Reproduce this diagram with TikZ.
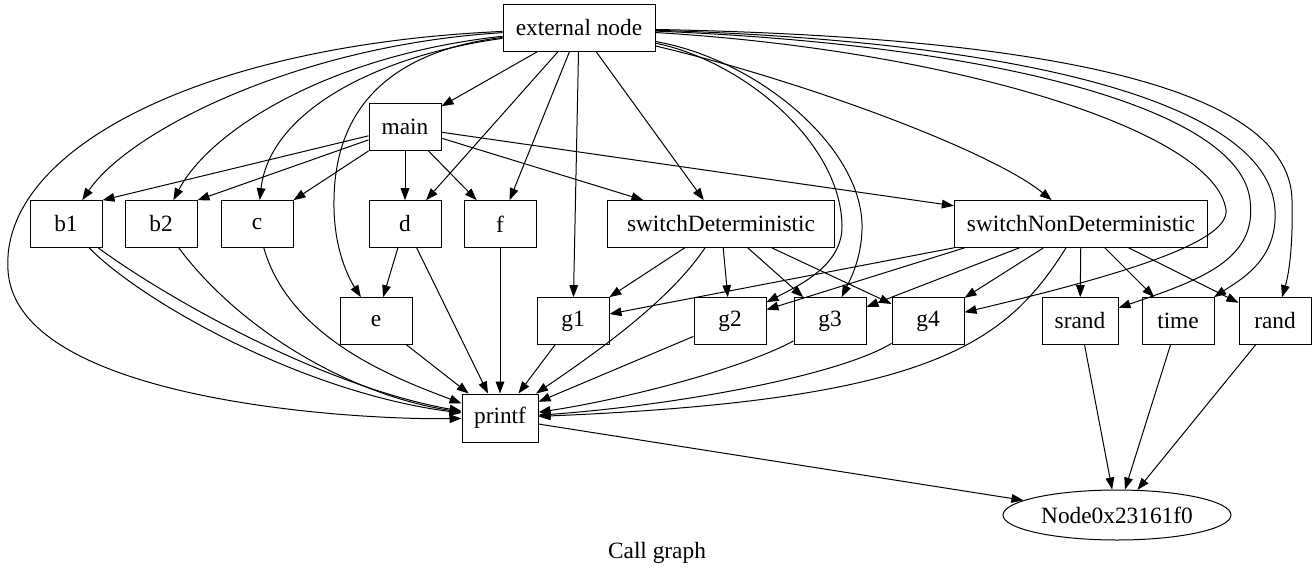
\documentclass[tikz,border=0pt]{standalone}
\usepackage{fontspec}
\setmainfont{Liberation Serif}
\usetikzlibrary{arrows.meta,shapes.geometric}

\begin{document}
\begin{tikzpicture}[x=0.75pt, y=-0.75pt,
  fn/.style={draw, line width=0.75pt, rectangle, minimum width=54pt, minimum height=35pt, inner xsep=3pt, font=\fontsize{17.5}{20}\selectfont},
  call/.style={-{Triangle[length=9pt,width=6.5pt]}, line width=0.75pt}]
\useasboundingbox (0,0) rectangle (1315,576);

% Functions
\node[fn, minimum width=114pt] (ext) at (579,28) {external node};
\node[fn] (main) at (405,127) {main};
\node[fn] (b1) at (66,224) {b1};
\node[fn] (b2) at (161,224) {b2};
\node[fn] (c) at (257,224) {c};
\node[fn] (d) at (405,224) {d};
\node[fn] (f) at (500,224) {f};
\node[fn, minimum width=170pt] (swD) at (721,224) {switchDeterministic};
\node[fn, minimum width=190pt] (swND) at (1081,224) {switchNonDeterministic};
\node[fn] (e) at (376,321) {e};
\node[fn] (g1) at (573,321) {g1};
\node[fn] (g2) at (730,321) {g2};
\node[fn] (g3) at (830,321) {g3};
\node[fn] (g4) at (928,321) {g4};
\node[fn, minimum width=57pt] (srand) at (1080,321) {srand};
\node[fn] (time) at (1178,321) {time};
\node[fn] (rand) at (1275,321) {rand};
\node[fn, minimum width=57pt, minimum height=36pt] (printf) at (500,418) {printf};
\node[draw, ellipse, line width=0.75pt, minimum width=171pt, minimum height=37.5pt, font=\fontsize{17.5}{20}\selectfont] (nd) at (1117,515) {Node0x23161f0};
\node[font=\fontsize{17.5}{20}\selectfont] (title) at (657,553) {Call graph};

% Calls from the external node
\draw[call] (ext) .. controls (200,45) and (0,150) .. (8,270) .. controls (15,400) and (350,420) .. (printf);
\draw[call] (ext) .. controls (300,45) and (130,130) .. (b1);
\draw[call] (ext) .. controls (330,55) and (210,130) .. (b2);
\draw[call] (ext) .. controls (380,55) and (270,110) .. (c);
\draw[call] (ext) .. controls (400,50) and (335,100) .. (334,200) .. controls (333,250) and (350,280) .. (e);
\draw[call] (ext) -- (main);
\draw[call] (ext) -- (d);
\draw[call] (ext) -- (f);
\draw[call] (ext) -- (g1);
\draw[call] (ext) -- (swD);
\draw[call] (ext) .. controls (800,80) and (990,150) .. (swND);
\draw[call] (ext) .. controls (740,60) and (840,140) .. (842,225) .. controls (843,265) and (800,285) .. (g2);
\draw[call] (ext) .. controls (760,60) and (865,150) .. (862,230) .. controls (861,260) and (850,280) .. (g3);
\draw[call] (ext) .. controls (950,50) and (1215,130) .. (1226,210) .. controls (1230,245) and (1100,280) .. (g4);
\draw[call] (ext) .. controls (1000,45) and (1240,110) .. (1250,200) .. controls (1258,260) and (1200,280) .. (srand);
\draw[call] (ext) .. controls (1050,42) and (1270,110) .. (1275,210) .. controls (1278,260) and (1240,280) .. (time);
\draw[call] (ext) .. controls (1100,38) and (1290,100) .. (1292,200) .. controls (1293,240) and (1290,270) .. (rand);

% Calls from main
\draw[call] (main) -- (b1.north east);
\draw[call] (main) -- (b2.north east);
\draw[call] (main) -- (c.north east);
\draw[call] (main) -- (d);
\draw[call] (main) -- (f);
\draw[call] (main) -- (swD);
\draw[call] (main) -- (swND);

% Second row
\draw[call] (b1) .. controls (140,300) and (300,392) .. (printf);
\draw[call] (b1) .. controls (162,295) and (320,386) .. (printf);
\draw[call] (b2) .. controls (240,330) and (350,395) .. (printf);
\draw[call] (c) .. controls (290,340) and (400,380) .. (printf);
\draw[call] (d) -- (e);
\draw[call] (d) -- (printf);
\draw[call] (f) -- (printf);
\draw[call] (swD) -- (g1);
\draw[call] (swD) -- (g2);
\draw[call] (swD) -- (g3);
\draw[call] (swD) -- (g4);
\draw[call] (swD) .. controls (670,300) and (600,350) .. (printf);
\draw[call] (swND.south west) -- (g1);
\draw[call] ([xshift=8pt]swND.south west) -- (g2);
\draw[call] (swND) -- (g3);
\draw[call] (swND) -- (g4);
\draw[call] (swND) -- (srand);
\draw[call] (swND) -- (time);
\draw[call] (swND) -- (rand);
\draw[call] (swND) .. controls (1005,345) and (930,400) .. (printf);

% Third row
\draw[call] (e) -- (printf);
\draw[call] (g1) -- (printf);
\draw[call] (g2) -- (printf);
\draw[call] (g3) .. controls (740,370) and (620,400) .. (printf);
\draw[call] (g4) .. controls (840,375) and (680,405) .. (printf);
\draw[call] (srand) -- (nd);
\draw[call] (time) -- (nd);
\draw[call] (rand) -- (nd);
\draw[call] (printf) -- (nd);
\end{tikzpicture}
\end{document}
